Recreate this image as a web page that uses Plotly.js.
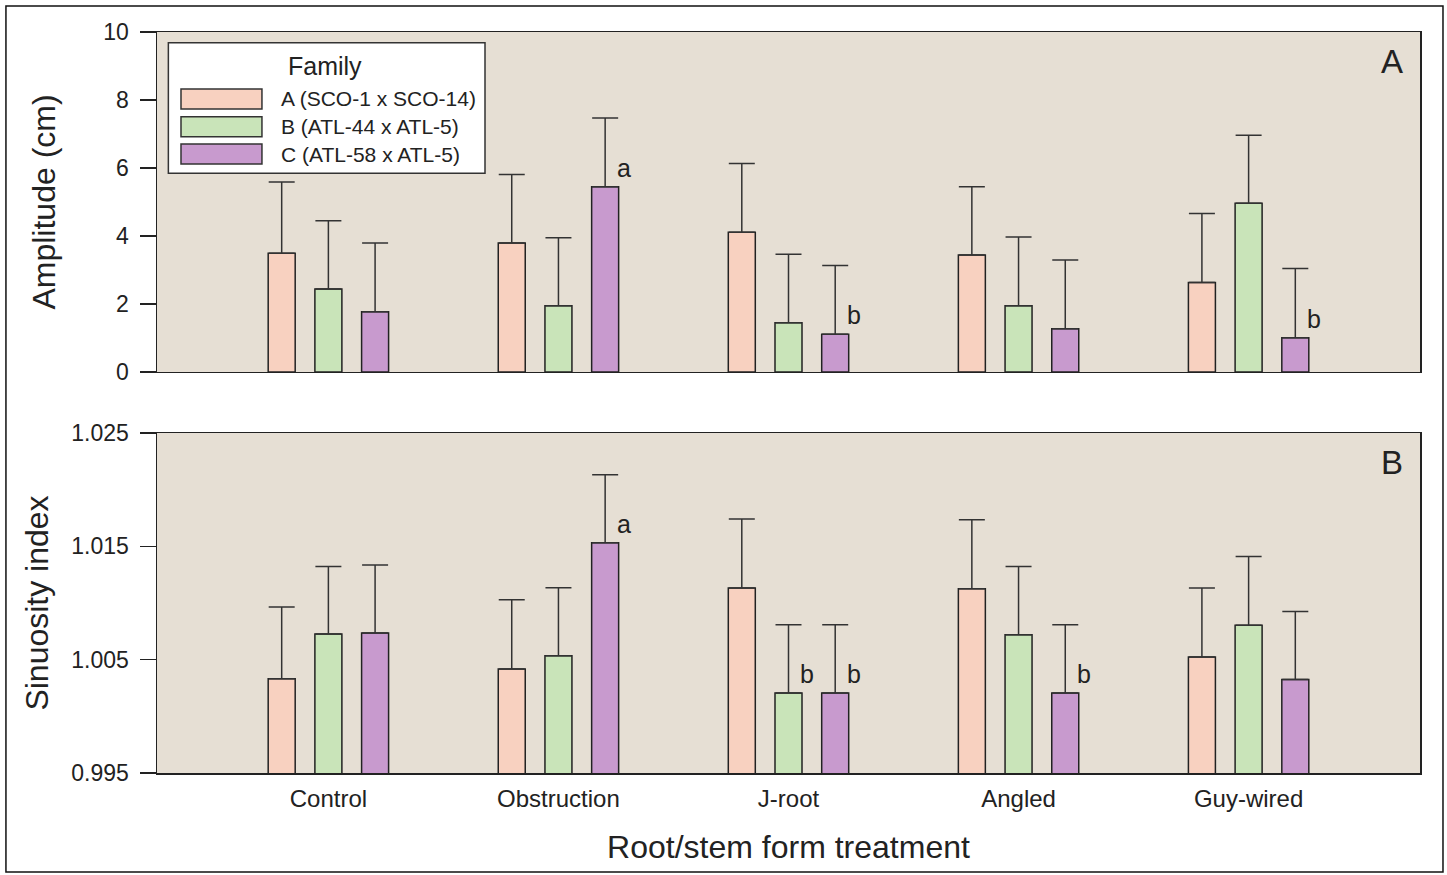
<!DOCTYPE html>
<html>
<head>
<meta charset="utf-8">
<script src="https://cdn.plot.ly/plotly-3.0.1.min.js"></script>
<style>html,body{margin:0;padding:0;background:#fff;}#chart{width:1447px;height:875px;}</style>
</head>
<body>
<div id="chart"></div>
<script>
// ---- data ----
const categories = ['Control', 'Obstruction', 'J-root', 'Angled', 'Guy-wired'];
const familyNames = ['A (SCO-1 x SCO-14)', 'B (ATL-44 x ATL-5)', 'C (ATL-58 x ATL-5)'];
const familyColors = ['#f8d1c0', '#c9e4b9', '#c89ace'];

// Panel A: amplitude (cm), mean and upper error
const ampA = [3.49, 3.79, 4.11, 3.44, 2.63];
const ampAErr = [2.10, 2.02, 2.02, 2.01, 2.03];
const ampB = [2.44, 1.95, 1.45, 1.95, 4.96];
const ampBErr = [2.01, 2.00, 2.01, 2.02, 2.00];
const ampC = [1.77, 5.45, 1.11, 1.27, 1.01];
const ampCErr = [2.02, 2.02, 2.02, 2.02, 2.03];
const ampLettersC = ['', 'a', 'b', '', 'b'];

// Panel B: sinuosity index, mean and upper error
const sinA = [1.00332, 1.00418, 1.01132, 1.01126, 1.00524];
const sinAErr = [0.00633, 0.00611, 0.00609, 0.00609, 0.00608];
const sinB = [1.00726, 1.00535, 1.00206, 1.00720, 1.00803];
const sinBErr = [0.00597, 0.00600, 0.00603, 0.00603, 0.00608];
const sinC = [1.00735, 1.01532, 1.00206, 1.00206, 1.00326];
const sinCErr = [0.00600, 0.00600, 0.00603, 0.00603, 0.00600];
const sinLettersB = ['', '', 'b', '', ''];
const sinLettersC = ['', 'a', 'b', 'b', ''];

const sinTicks = [0.995, 1.005, 1.015, 1.025];
const ampTicks = [0, 2, 4, 6, 8, 10];

// ---- style ----
const FONT = 'Liberation Sans, Arial, Helvetica, sans-serif';
const INK = '#222';
const barOffsets = [-0.203, 0, 0.203];
const barHalf = 0.0587;

function barTrace(vals, errs, i, xa, ya) {
  return {
    type: 'bar', x: categories, y: vals, xaxis: xa, yaxis: ya,
    name: familyNames[i], showlegend: false,
    marker: {color: familyColors[i], line: {color: INK, width: 1.5}},
    error_y: {type: 'data', symmetric: false, array: errs,
              arrayminus: errs.map(() => 0), color: '#333', thickness: 1.5, width: 13}
  };
}

const data = [
  barTrace(ampA, ampAErr, 0, 'x', 'y'),
  barTrace(ampB, ampBErr, 1, 'x', 'y'),
  barTrace(ampC, ampCErr, 2, 'x', 'y'),
  barTrace(sinA, sinAErr, 0, 'x2', 'y2'),
  barTrace(sinB, sinBErr, 1, 'x2', 'y2'),
  barTrace(sinC, sinCErr, 2, 'x2', 'y2')
];

const annotations = [];
function letterAnns(letters, vals, series, xref, yref) {
  letters.forEach((t, k) => {
    if (!t) return;
    annotations.push({
      text: t, x: k + barOffsets[series] + barHalf, y: vals[k],
      xref: xref, yref: yref, xanchor: 'left', yanchor: 'bottom',
      xshift: -4, yshift: 3, showarrow: false,
      font: {family: FONT, size: 25, color: INK}
    });
  });
}
letterAnns(ampLettersC, ampC, 2, 'x', 'y');
letterAnns(sinLettersB, sinB, 1, 'x2', 'y2');
letterAnns(sinLettersC, sinC, 2, 'x2', 'y2');

// panel letters
annotations.push({text: 'A', xref: 'x domain', yref: 'y domain', x: 0.978, y: 0.912,
  xanchor: 'center', yanchor: 'middle',
  showarrow: false, font: {family: FONT, size: 33, color: INK}});
annotations.push({text: 'B', xref: 'x2 domain', yref: 'y2 domain', x: 0.978, y: 0.912,
  xanchor: 'center', yanchor: 'middle',
  showarrow: false, font: {family: FONT, size: 33, color: INK}});

// manual legend (wide swatches)
const shapes = [];
shapes.push({type: 'rect', xref: 'x domain', yref: 'y domain', x0: 0.009, x1: 0.2597,
  y0: 0.5844, y1: 0.9685, line: {color: '#333', width: 1.5}, fillcolor: '#ffffff'});
annotations.push({text: 'Family', xref: 'x domain', yref: 'y domain', x: 0.133, y: 0.90,
  xanchor: 'center', yanchor: 'middle',
  showarrow: false, font: {family: FONT, size: 25, color: INK}});
const rowY = [0.803, 0.7215, 0.641];
familyNames.forEach((nm, i) => {
  shapes.push({type: 'rect', xref: 'x domain', yref: 'y domain', x0: 0.019, x1: 0.0831,
    y0: rowY[i] - 0.0294, y1: rowY[i] + 0.0294, line: {color: '#333', width: 1.5},
    fillcolor: familyColors[i]});
  annotations.push({text: nm, xref: 'x domain', yref: 'y domain', x: 0.0965, y: rowY[i],
    xanchor: 'left', yanchor: 'middle', showarrow: false,
    font: {family: FONT, size: 21, color: INK}});
});

// outer frame
shapes.push({type: 'rect', xref: 'paper', yref: 'paper', x0: -0.1196, x1: 1.0182,
  y0: -0.1336, y1: 1.0351, line: {color: '#111', width: 1.5}, fillcolor: 'rgba(0,0,0,0)', layer: 'below'});

const axFont = {family: FONT, size: 23, color: INK};
const xBase = {
  type: 'category', range: [-0.745, 4.745], showline: true, mirror: true,
  linecolor: INK, linewidth: 1.5, ticks: '', showgrid: false, zeroline: false,
  tickfont: {family: FONT, size: 24, color: INK}, ticklabelstandoff: 4
};
const yBase = {
  showline: true, mirror: true, linecolor: INK, linewidth: 1.5,
  ticks: 'outside', ticklen: 16, tickwidth: 1.5, tickcolor: INK,
  showgrid: false, zeroline: false, tickfont: axFont, ticklabelstandoff: 6
};

const layout = {
  width: 1447, height: 875,
  margin: {l: 157, r: 27, t: 32, b: 102},
  paper_bgcolor: '#ffffff', plot_bgcolor: '#e6dfd4',
  font: {family: FONT, color: INK},
  barmode: 'group', bargap: 0.391, bargroupgap: 0.422,
  showlegend: false,
  xaxis: Object.assign({}, xBase, {anchor: 'y', showticklabels: false}),
  yaxis: Object.assign({}, yBase, {domain: [0.5412, 1], range: [0, 10],
    tickvals: ampTicks, anchor: 'x',
    title: {text: 'Amplitude (cm)', font: {family: FONT, size: 32, color: INK}, standoff: 38}}),
  xaxis2: Object.assign({}, xBase, {anchor: 'y2',
    title: {text: 'Root/stem form treatment', font: {family: FONT, size: 32, color: INK}, standoff: 24}}),
  yaxis2: Object.assign({}, yBase, {domain: [0, 0.4588], range: [0.995, 1.025],
    tickvals: sinTicks, tickformat: '.3f', anchor: 'x2',
    title: {text: 'Sinuosity index', font: {family: FONT, size: 32, color: INK}, standoff: 13}}),
  annotations: annotations,
  shapes: shapes
};

Plotly.newPlot('chart', data, layout, {displayModeBar: false, staticPlot: true});
</script>
</body>
</html>
